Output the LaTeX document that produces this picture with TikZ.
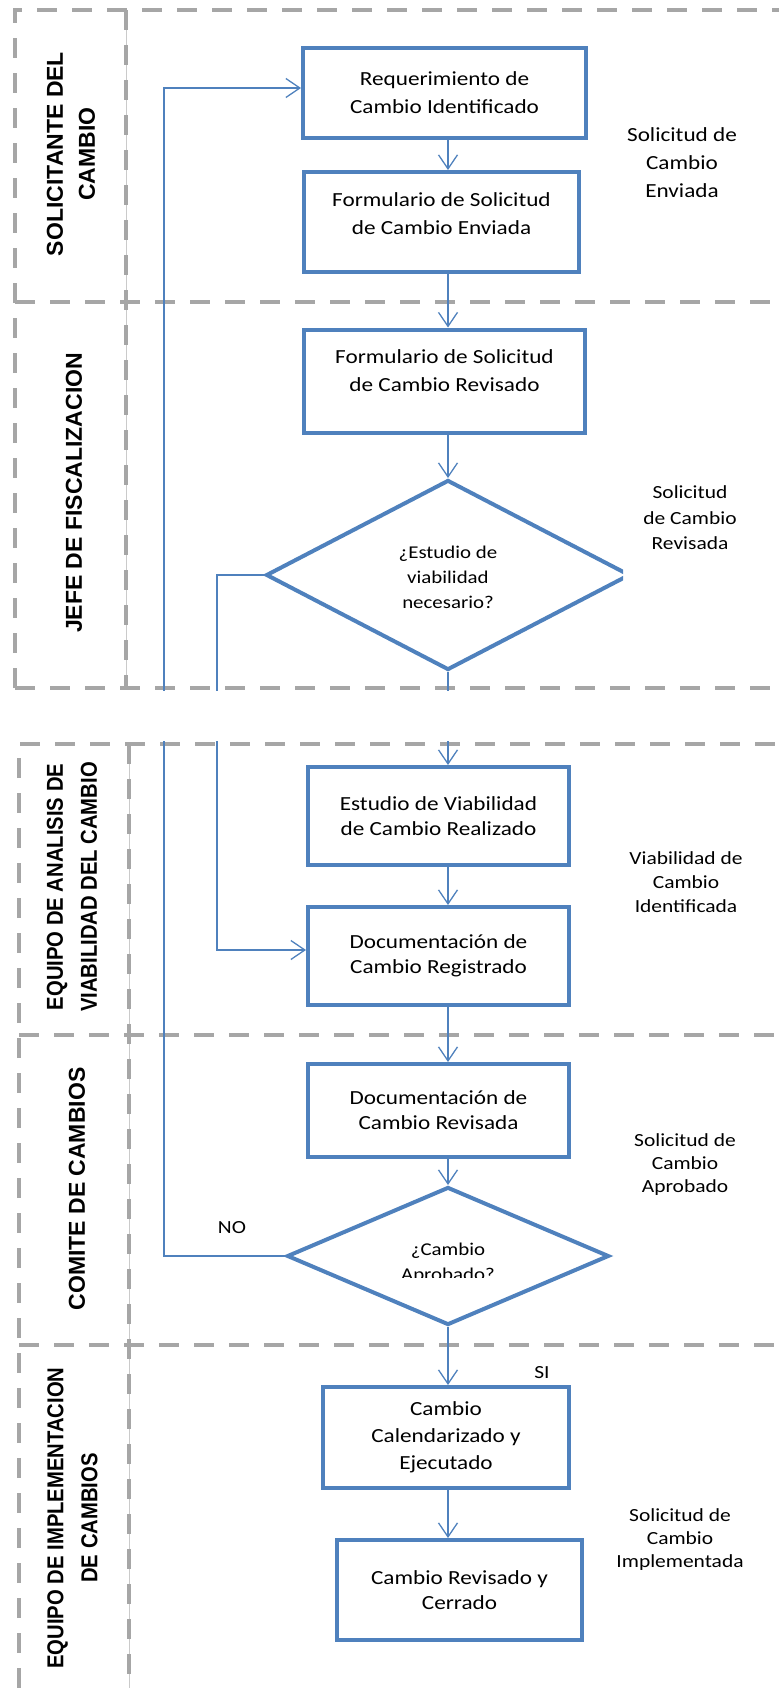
\documentclass[tikz,border=0pt]{standalone}
\usepackage{fontspec}
\usetikzlibrary{shapes.geometric,arrows.meta}
\newfontfamily\letracaja{Carlito}[FakeStretch=1.16]
\newfontfamily\letracarril{Liberation Sans}
\newfontfamily\letracarrilangosta{Liberation Sans}[FakeStretch=0.88]
\definecolor{azul}{HTML}{4F81BD}
\definecolor{gris}{HTML}{A6A6A6}

\begin{document}
\begin{tikzpicture}[x=1pt,y=-1pt,
    caja/.style = {draw=azul, line width=4pt, inner sep=0pt, align=center,
                   font=\letracaja\fontsize{20}{25}\selectfont},
    decision/.style = {diamond, draw=azul, line width=4pt, inner sep=0pt},
    texto/.style = {align=center, inner sep=0pt, font=\letracaja\fontsize{20}{28}\selectfont},
    nota/.style = {align=center, inner sep=0pt, font=\letracaja\fontsize{18.5}{23}\selectfont},
    flecha/.style = {azul, line width=1.3pt, -{Straight Barb[length=14pt,width=19pt]}},
    carril/.style = {gris, line width=4pt, dash pattern=on 20pt off 15pt},
    rotulo/.style = {rotate=90, align=center, inner sep=0pt,
                     font=\letracarril\bfseries\fontsize{23}{32}\selectfont}]
\useasboundingbox (0,0) rectangle (779,1688);

% carriles
\draw[gris!60, line width=1pt] (126,10) -- (126,688) (129,744) -- (129,1688);
\draw[carril] (15,688) -- (15,10) -- (779,10);
\draw[carril] (126,10) -- (126,688);
\draw[carril] (15,302) -- (779,302);
\draw[carril] (15,688) -- (779,688);
\draw[carril] (19,1688) -- (19,744) -- (779,744);
\draw[carril] (129,744) -- (129,1688);
\draw[carril] (19,1035) -- (779,1035);
\draw[carril] (19,1345) -- (779,1345);

\node (c1) [rotulo] at (71,154) {SOLICITANTE DEL\\CAMBIO};
\node (c2) [rotulo] at (74,493) {JEFE DE FISCALIZACION};
\node (c3) [rotulo, font=\letracarrilangosta\bfseries\fontsize{23}{34}\selectfont]
    at (72,887) {EQUIPO DE ANALISIS DE\\VIABILIDAD DEL CAMBIO};
\node (c4) [rotulo] at (77,1189) {COMITE DE CAMBIOS};
\node (c5) [rotulo, font=\letracarrilangosta\bfseries\fontsize{23}{34}\selectfont]
    at (72.5,1518) {EQUIPO DE IMPLEMENTACION\\DE CAMBIOS};

% pasos
\node (b1) [caja, minimum width=283pt, minimum height=90pt,
            font=\letracaja\fontsize{20}{28}\selectfont] at (444.5,93)
    {Requerimiento de\\Cambio Identificado};
\node (b2) [caja, minimum width=275pt, minimum height=100pt] at (441.5,222) {};
\node (t2) [texto] at ([yshift=8pt]b2.center) {Formulario de Solicitud\\de Cambio Enviada};
\node (b3) [caja, minimum width=281pt, minimum height=103pt] at (444.5,381) {};
\node (t3) [texto] at ([yshift=10pt]b3.center) {Formulario de Solicitud\\de Cambio Revisado};
\begin{scope}
    \clip (0,0) rectangle (623,1688);
    \node (d1) [decision, minimum width=364pt, minimum height=190pt] at (448,575) {};
\end{scope}
\node (td1) [nota, font=\letracaja\fontsize{18}{25}\selectfont] at (448,577)
    {¿Estudio de\\viabilidad\\necesario?};
\node (b4) [caja, minimum width=261pt, minimum height=98pt] at (438.5,816)
    {Estudio de Viabilidad\\de Cambio Realizado};
\node (b5) [caja, minimum width=261pt, minimum height=98pt] at (438.5,956)
    {Documentación de\\Cambio Registrado};
\node (b6) [caja, minimum width=261pt, minimum height=93pt] at (438.5,1110.5)
    {Documentación de\\Cambio Revisada};
\node (d2) [decision, minimum width=322pt, minimum height=138pt] at (448,1256) {};
\begin{scope}
    \clip (300,1180) rectangle (600,1277);
    \node (td2) [nota, font=\letracaja\fontsize{18}{25}\selectfont] at (448,1263)
        {¿Cambio\\Aprobado?};
\end{scope}
\node (b7) [caja, minimum width=246pt, minimum height=101pt,
            font=\letracaja\fontsize{20}{27}\selectfont] at (446,1437.5)
    {Cambio\\Calendarizado y\\Ejecutado};
\node (b8) [caja, minimum width=245pt, minimum height=100pt] at (459.5,1590)
    {Cambio Revisado y\\Cerrado};

\coordinate (eje) at (448,0);
\coordinate (ret) at (164,88);
\coordinate (sal) at (217,950);

\draw[flecha] (b1.south -| eje) -- (b2.north -| eje);
\draw[flecha] (b2.south -| eje) -- (b3.north -| eje);
\draw[flecha] (b3.south -| eje) -- (d1.north);
\draw[flecha] (d1.south) -- (b4.north -| eje);
\draw[flecha] (b4.south -| eje) -- (b5.north -| eje);
\draw[flecha] (b5.south -| eje) -- (b6.north -| eje);
\draw[flecha] (b6.south -| eje) -- (d2.north);
\draw[flecha] (d2.south) -- (b7.north -| eje);
\draw[flecha] (b7.south -| eje) -- (b8.north -| eje);
\draw[flecha] (d1.west) -| (sal) -- (sal -| b5.west);
\draw[flecha] (d2.west) -| (ret) -- (ret -| b1.west);

% hueco entre las dos hojas
\fill[white] (0,691) rectangle (779,741);

\node (no) [nota] at (232,1228) {NO};
\node (si) [nota] at (542,1373) {SI};

% estados
\node (e1) [texto] at (682,163) {Solicitud de\\Cambio\\Enviada};
\node (e2) [nota, font=\letracaja\fontsize{18.5}{25.5}\selectfont] at (690,518)
    {Solicitud\\de Cambio\\Revisada};
\node (e3) [nota, font=\letracaja\fontsize{18.5}{24}\selectfont] at (686,882)
    {Viabilidad de\\Cambio\\Identificada};
\node (e4) [nota] at (685,1165) {Solicitud de\\Cambio\\Aprobado};
\node (e5) [nota] at (680,1540) {Solicitud de\\Cambio\\Implementada};
\end{tikzpicture}
\end{document}
